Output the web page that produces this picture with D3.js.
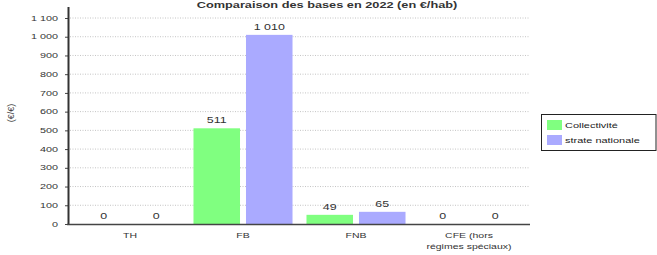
<!DOCTYPE html>
<html><head><meta charset="utf-8">
<script src="https://cdn.jsdelivr.net/npm/d3@7"></script>
<style>body{margin:0;background:#fff}svg{display:block;font-family:"Liberation Sans",Arial,sans-serif}</style>
</head><body><svg id="c" width="657" height="255"></svg>
<script>
const categories = ["TH", "FB", "FNB", "CFE (hors|régimes spéciaux)"];
const seriesNames = ["Collectivité", "strate nationale"];
const collectivite = [0, 511, 49, 0];
const strate = [0, 1010, 65, 0];
const yTicks = [0,100,200,300,400,500,600,700,800,900,1000,1100];
const colors = ["#80ff80", "#aaaaff"];
const title = "Comparaison des bases en 2022 (en €/hab)";
const yLabel = "(€/€)";

const SX = 1.5;
const svg = d3.select("#c");
const fmt = v => d3.format(",")(v).replace(/,/g, " ");
function stext(parent, x, yy, txt, size, anchor, fill, weight) {
  const g = parent.append("g").attr("transform", `translate(${x},${yy}) scale(${SX},1)`);
  return g.append("text").attr("x",0).attr("y",0).attr("text-anchor", anchor)
    .attr("font-size", size).attr("fill", fill || "#222").attr("font-weight", weight || "normal").text(txt);
}

const x0 = d3.scaleBand().domain(categories).range([73.5, 525.5]).paddingInner(0).paddingOuter(0);
const x1 = d3.scaleBand().domain(seriesNames).range([0, x0.bandwidth()]).paddingInner(0.114).paddingOuter(0.133);
const y = d3.scaleLinear().domain([0, 1100]).range([224, 18]);

// grid
svg.append("g").selectAll("line").data(yTicks.filter(d=>d>0)).join("line")
  .attr("x1", 70).attr("x2", 530).attr("y1", d=>y(d)).attr("y2", d=>y(d))
  .attr("stroke", "#c4c4c4").attr("stroke-width", 1).attr("stroke-dasharray", "1,1.5");

// bars
const data = categories.map((c,i)=>({c, vals:[collectivite[i], strate[i]]}));
const g = svg.append("g").selectAll("g").data(data).join("g")
  .attr("transform", d=>`translate(${x0(d.c)},0)`);
g.selectAll("rect").data(d=>d.vals.map((v,j)=>({v, s:seriesNames[j], j}))).join("rect")
  .attr("x", d=>x1(d.s)).attr("width", x1.bandwidth())
  .attr("y", d=>y(d.v)).attr("height", d=>y(0)-y(d.v))
  .attr("fill", d=>colors[d.j]);
data.forEach(d=>{
  d.vals.forEach((v,j)=>{
    stext(svg, x0(d.c)+x1(seriesNames[j])+x1.bandwidth()/2, y(v)-5, fmt(v), 8.3, "middle", "#333");
  });
});

// y axis
const yAxis = d3.axisLeft(y).tickValues(yTicks).tickSize(3).tickFormat("");
const ya = svg.append("g").attr("transform","translate(68,0)").call(yAxis);
ya.select(".domain").remove();
ya.selectAll(".tick line").attr("stroke","#444");
yTicks.forEach(t=> stext(svg, 58, y(t)+2.6, fmt(t), 7.2, "end", "#333"));
svg.append("line").attr("x1",68.5).attr("x2",68.5).attr("y1",7).attr("y2",225)
  .attr("stroke","#333").attr("stroke-width",2);
svg.append("line").attr("x1",67).attr("x2",530).attr("y1",224.5).attr("y2",224.5)
  .attr("stroke","#444").attr("stroke-width",1.5);

// x labels
categories.forEach(c=>{
  c.split("|").forEach((p,k)=> stext(svg, x0(c)+x0.bandwidth()/2, 238 + k*10.5, p, 7, "middle", "#333"));
});

// title
stext(svg, 327, 8, title, 8.5, "middle", "#333", "bold");

// y label
svg.append("text").attr("transform","translate(14,113) rotate(-90)").attr("text-anchor","middle")
  .attr("font-size",9).attr("fill","#444").text(yLabel);

// legend
const lg = svg.append("g").attr("transform","translate(541,114)");
lg.append("rect").attr("x",0.5).attr("y",0.5).attr("width",114.5).attr("height",36)
  .attr("fill","#fff").attr("stroke","#222").attr("stroke-width",1);
seriesNames.forEach((s,i)=>{
  lg.append("rect").attr("x",6).attr("y",6+i*15).attr("width",15).attr("height",10).attr("fill",colors[i]);
  stext(lg, 24, 14 + i*15, s, 7.3, "start", "#222");
});
</script></body></html>
